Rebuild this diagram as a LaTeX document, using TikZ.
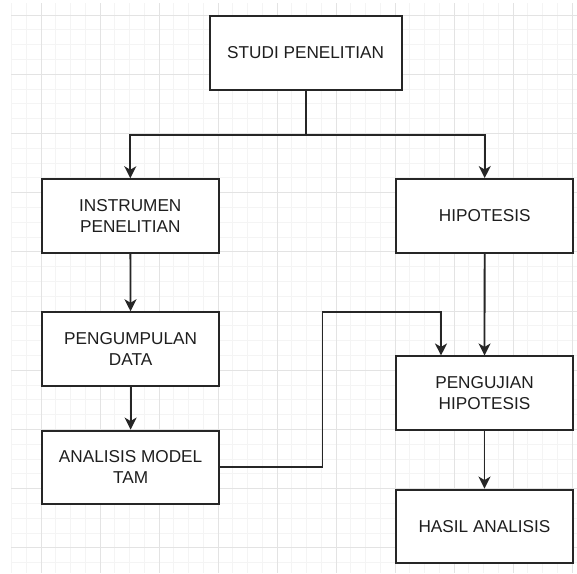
\documentclass[tikz,border=0pt]{standalone}
\usepackage{fontspec}
\setmainfont{Liberation Sans}
\usetikzlibrary{arrows.meta}
\definecolor{gridminor}{HTML}{F4F4F4}
\definecolor{gridmajor}{HTML}{E3E3E3}
\definecolor{edgecol}{HTML}{262626}
\definecolor{textcol}{HTML}{1E1E1E}
\tikzset{
  box/.style={draw=edgecol, line width=2pt, fill=white, inner sep=0pt,
    minimum width=177pt, minimum height=73.5pt, align=center,
    text=textcol, font=\fontsize{17.2}{21}\selectfont},
  conn/.style={draw=edgecol, line width=1.8pt,
    -{Stealth[length=12pt,width=12pt,inset=3.5pt]}},
  plain/.style={draw=edgecol, line width=1.8pt}
}
\begin{document}
\begin{tikzpicture}[x=1pt,y=-1pt]
\useasboundingbox (0,0) rectangle (577,573);
\fill[white] (0,0) rectangle (577,573);
\begin{scope}
  \clip (11,3) rectangle (577,573);
  \foreach \i in {0,...,38} {
    \draw[gridminor, line width=0.8pt] (11.5+14.75*\i,0) -- (11.5+14.75*\i,573);
    \draw[gridminor, line width=0.8pt] (11,0.2+14.8*\i) -- (577,0.2+14.8*\i);
  }
  \foreach \i in {0,...,9} {
    \draw[gridmajor, line width=1pt] (41+59*\i,0) -- (41+59*\i,573);
    \draw[gridmajor, line width=1pt] (11,15+59.2*\i) -- (577,15+59.2*\i);
  }
\end{scope}

\node[box, minimum width=192pt, minimum height=74pt] (studi) at (305.6,53) {STUDI PENELITIAN};
\node[box] (instr) at (130.3,216) {INSTRUMEN\\PENELITIAN};
\node[box] (hipo) at (484.7,215.8) {HIPOTESIS};
\node[box] (kumpul) at (130.6,349) {PENGUMPULAN\\DATA};
\node[box] (anal) at (130.6,467.3) {ANALISIS MODEL\\TAM};
\node[box] (uji) at (484.5,393.2) {PENGUJIAN\\HIPOTESIS};
\node[box] (hasil) at (484.5,526.3) {HASIL ANALISIS};

\coordinate (split) at (305.6,134.7);
\coordinate (bendA) at (322.5,466.7);
\coordinate (bendB) at (322.5,312.3);
\coordinate (bendC) at (441,312.3);

\draw[plain] (studi.south) -- (split);
\draw[conn] (split) -| (instr.north);
\draw[conn] (split) -| (hipo.north);
\draw[conn] (instr) -- (kumpul);
\draw[conn] (kumpul) -- (anal);
\draw[conn] (hipo) -- (uji);
\draw[conn] (uji) -- (hasil);
\draw[conn] (anal.east |- bendA) -- (bendA) -- (bendB) -- (bendC) -- (bendC |- uji.north);
\end{tikzpicture}
\end{document}
